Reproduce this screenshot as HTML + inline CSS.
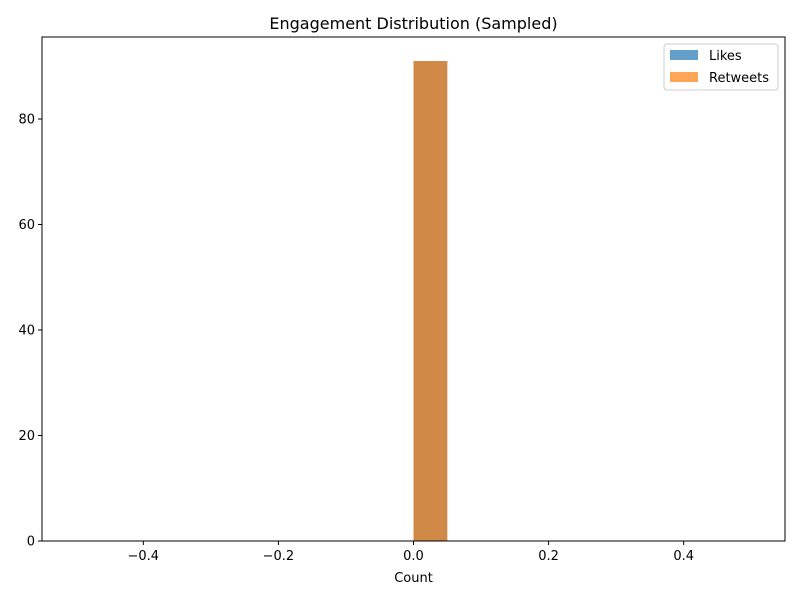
<!DOCTYPE html>
<html><head><meta charset="utf-8"><style>
body{margin:0;background:#fff;font-family:"Liberation Sans","DejaVu Sans",sans-serif}
</style></head><body>
<svg id="chart" width="800" height="600" xmlns="http://www.w3.org/2000/svg" font-family="DejaVu Sans, Liberation Sans, sans-serif">
<rect width="800" height="600" fill="#fff"/>
<text x="413.5" y="29" text-anchor="middle" font-size="16">Engagement Distribution (Sampled)</text>
<g id="bars"></g>
<g id="axes"></g>
<text x="413.5" y="582" text-anchor="middle" font-size="13">Count</text>
<g>
<rect x="664" y="44" width="114" height="46" rx="3" fill="#fff" fill-opacity="0.8" stroke="#ccc"/>
<rect x="670" y="50" width="28" height="10" fill="#1f77b4" fill-opacity="0.7"/>
<text x="709" y="60" font-size="13">Likes</text>
<rect x="670" y="72" width="28" height="10" fill="#ff7f0e" fill-opacity="0.7"/>
<text x="709" y="82" font-size="13">Retweets</text>
</g>
</svg>
<script>
const binEdges=[0,0.05];
const likesCounts=[91];
const retweetsCounts=[91];
const xTicks=[-0.4,-0.2,0.0,0.2,0.4];
const xTickLabels=["\u22120.4","\u22120.2","0.0","0.2","0.4"];
const yTicks=[0,20,40,60,80];
const X0=42,X1=785,Y0=541,Y1=37;
const xMin=-0.55,xMax=0.55,yMin=0,yMax=95.55;
const sx=v=>X0+(v-xMin)/(xMax-xMin)*(X1-X0);
const sy=v=>Y0-(v-yMin)/(yMax-yMin)*(Y0-Y1);
const NS="http://www.w3.org/2000/svg";
const bars=document.getElementById('bars');
function drawSeries(counts,color,name){
  counts.forEach((c,i)=>{
    const r=document.createElementNS(NS,'rect');
    
    
    r.setAttribute('x',sx(binEdges[i]));
    r.setAttribute('width',sx(binEdges[i+1])-sx(binEdges[i]));
    r.setAttribute('y',sy(c));
    r.setAttribute('height',sy(0)-sy(c));
    r.setAttribute('fill',color);
    r.setAttribute('fill-opacity','0.7');
    bars.appendChild(r);
  });
}
drawSeries(likesCounts,'#1f77b4','likes');
drawSeries(retweetsCounts,'#ff7f0e','retweets');
const ax=document.getElementById('axes');
const frame=document.createElementNS(NS,'rect');


frame.setAttribute('x',X0);frame.setAttribute('y',Y1);
frame.setAttribute('width',X1-X0);frame.setAttribute('height',Y0-Y1);
frame.setAttribute('fill','none');frame.setAttribute('stroke','#000');frame.setAttribute('stroke-width','1');
ax.appendChild(frame);
xTicks.forEach((t,i)=>{
  const x=sx(t);
  const l=document.createElementNS(NS,'line');
  
  
  l.setAttribute('x1',x);l.setAttribute('x2',x);l.setAttribute('y1',Y0);l.setAttribute('y2',Y0+4);l.setAttribute('stroke','#000');
  ax.appendChild(l);
  const tx=document.createElementNS(NS,'text');
  
  
  tx.setAttribute('x',x);tx.setAttribute('y',Y0+19);tx.setAttribute('text-anchor','middle');tx.setAttribute('font-size','13');
  tx.textContent=xTickLabels[i];
  ax.appendChild(tx);
});
yTicks.forEach(t=>{
  const y=sy(t);
  const l=document.createElementNS(NS,'line');
  
  
  l.setAttribute('x1',X0-4);l.setAttribute('x2',X0);l.setAttribute('y1',y);l.setAttribute('y2',y);l.setAttribute('stroke','#000');
  ax.appendChild(l);
  const tx=document.createElementNS(NS,'text');
  
  
  tx.setAttribute('x',X0-7);tx.setAttribute('y',y+4.5);tx.setAttribute('text-anchor','end');tx.setAttribute('font-size','13');
  tx.textContent=String(t);
  ax.appendChild(tx);
});
</script>
</body></html>
